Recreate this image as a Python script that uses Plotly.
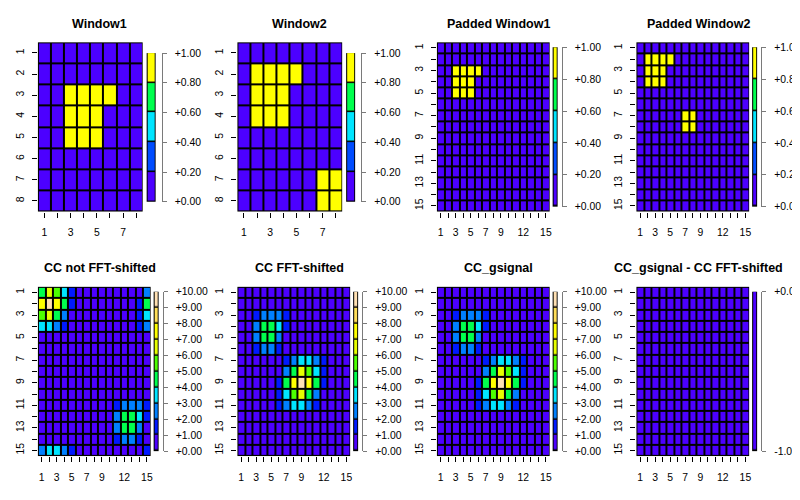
import plotly.graph_objects as go

# ---------------- data ----------------
window1 = [
    [0, 0, 0, 0, 0, 0, 0, 0],
    [0, 0, 0, 0, 0, 0, 0, 0],
    [0, 0, 1, 1, 1, 1, 0, 0],
    [0, 0, 1, 1, 1, 0, 0, 0],
    [0, 0, 1, 1, 1, 0, 0, 0],
    [0, 0, 0, 0, 0, 0, 0, 0],
    [0, 0, 0, 0, 0, 0, 0, 0],
    [0, 0, 0, 0, 0, 0, 0, 0],
]
window2 = [
    [0, 0, 0, 0, 0, 0, 0, 0],
    [0, 1, 1, 1, 1, 0, 0, 0],
    [0, 1, 1, 1, 0, 0, 0, 0],
    [0, 1, 1, 1, 0, 0, 0, 0],
    [0, 0, 0, 0, 0, 0, 0, 0],
    [0, 0, 0, 0, 0, 0, 0, 0],
    [0, 0, 0, 0, 0, 0, 1, 1],
    [0, 0, 0, 0, 0, 0, 1, 1],
]
padded1 = [
    [0, 0, 0, 0, 0, 0, 0, 0, 0, 0, 0, 0, 0, 0, 0],
    [0, 0, 0, 0, 0, 0, 0, 0, 0, 0, 0, 0, 0, 0, 0],
    [0, 0, 1, 1, 1, 1, 0, 0, 0, 0, 0, 0, 0, 0, 0],
    [0, 0, 1, 1, 1, 0, 0, 0, 0, 0, 0, 0, 0, 0, 0],
    [0, 0, 1, 1, 1, 0, 0, 0, 0, 0, 0, 0, 0, 0, 0],
    [0, 0, 0, 0, 0, 0, 0, 0, 0, 0, 0, 0, 0, 0, 0],
    [0, 0, 0, 0, 0, 0, 0, 0, 0, 0, 0, 0, 0, 0, 0],
    [0, 0, 0, 0, 0, 0, 0, 0, 0, 0, 0, 0, 0, 0, 0],
    [0, 0, 0, 0, 0, 0, 0, 0, 0, 0, 0, 0, 0, 0, 0],
    [0, 0, 0, 0, 0, 0, 0, 0, 0, 0, 0, 0, 0, 0, 0],
    [0, 0, 0, 0, 0, 0, 0, 0, 0, 0, 0, 0, 0, 0, 0],
    [0, 0, 0, 0, 0, 0, 0, 0, 0, 0, 0, 0, 0, 0, 0],
    [0, 0, 0, 0, 0, 0, 0, 0, 0, 0, 0, 0, 0, 0, 0],
    [0, 0, 0, 0, 0, 0, 0, 0, 0, 0, 0, 0, 0, 0, 0],
    [0, 0, 0, 0, 0, 0, 0, 0, 0, 0, 0, 0, 0, 0, 0],
]
padded2 = [
    [0, 0, 0, 0, 0, 0, 0, 0, 0, 0, 0, 0, 0, 0, 0],
    [0, 1, 1, 1, 1, 0, 0, 0, 0, 0, 0, 0, 0, 0, 0],
    [0, 1, 1, 1, 0, 0, 0, 0, 0, 0, 0, 0, 0, 0, 0],
    [0, 1, 1, 1, 0, 0, 0, 0, 0, 0, 0, 0, 0, 0, 0],
    [0, 0, 0, 0, 0, 0, 0, 0, 0, 0, 0, 0, 0, 0, 0],
    [0, 0, 0, 0, 0, 0, 0, 0, 0, 0, 0, 0, 0, 0, 0],
    [0, 0, 0, 0, 0, 0, 1, 1, 0, 0, 0, 0, 0, 0, 0],
    [0, 0, 0, 0, 0, 0, 1, 1, 0, 0, 0, 0, 0, 0, 0],
    [0, 0, 0, 0, 0, 0, 0, 0, 0, 0, 0, 0, 0, 0, 0],
    [0, 0, 0, 0, 0, 0, 0, 0, 0, 0, 0, 0, 0, 0, 0],
    [0, 0, 0, 0, 0, 0, 0, 0, 0, 0, 0, 0, 0, 0, 0],
    [0, 0, 0, 0, 0, 0, 0, 0, 0, 0, 0, 0, 0, 0, 0],
    [0, 0, 0, 0, 0, 0, 0, 0, 0, 0, 0, 0, 0, 0, 0],
    [0, 0, 0, 0, 0, 0, 0, 0, 0, 0, 0, 0, 0, 0, 0],
    [0, 0, 0, 0, 0, 0, 0, 0, 0, 0, 0, 0, 0, 0, 0],
]
cc_not_shifted = [
    [4, 6, 5, 3, 1, 0, 0, 0, 0, 0, 0, 0, 0, 0, 2],
    [7, 10, 7, 4, 1, 0, 0, 0, 0, 0, 0, 0, 0, 1, 4],
    [5, 6, 4, 2, 0, 0, 0, 0, 0, 0, 0, 0, 0, 1, 3],
    [3, 3, 2, 1, 0, 0, 0, 0, 0, 0, 0, 0, 0, 1, 2],
    [0, 0, 0, 0, 0, 0, 0, 0, 0, 0, 0, 0, 0, 0, 0],
    [0, 0, 0, 0, 0, 0, 0, 0, 0, 0, 0, 0, 0, 0, 0],
    [0, 0, 0, 0, 0, 0, 0, 0, 0, 0, 0, 0, 0, 0, 0],
    [0, 0, 0, 0, 0, 0, 0, 0, 0, 0, 0, 0, 0, 0, 0],
    [0, 0, 0, 0, 0, 0, 0, 0, 0, 0, 0, 0, 0, 0, 0],
    [0, 0, 0, 0, 0, 0, 0, 0, 0, 0, 0, 0, 0, 0, 0],
    [0, 0, 0, 0, 0, 0, 0, 0, 0, 0, 1, 2, 2, 2, 1],
    [0, 0, 0, 0, 0, 0, 0, 0, 0, 0, 2, 4, 4, 3, 1],
    [0, 0, 0, 0, 0, 0, 0, 0, 0, 0, 2, 4, 4, 2, 0],
    [0, 0, 0, 0, 0, 0, 0, 0, 0, 0, 1, 2, 2, 1, 0],
    [2, 3, 3, 2, 1, 0, 0, 0, 0, 0, 0, 0, 0, 0, 1],
]
cc_shifted = [
    [0, 0, 0, 0, 0, 0, 0, 0, 0, 0, 0, 0, 0, 0, 0],
    [0, 0, 0, 0, 0, 0, 0, 0, 0, 0, 0, 0, 0, 0, 0],
    [0, 0, 1, 2, 2, 2, 1, 0, 0, 0, 0, 0, 0, 0, 0],
    [0, 0, 2, 4, 4, 3, 1, 0, 0, 0, 0, 0, 0, 0, 0],
    [0, 0, 2, 4, 4, 2, 0, 0, 0, 0, 0, 0, 0, 0, 0],
    [0, 0, 1, 2, 2, 1, 0, 0, 0, 0, 0, 0, 0, 0, 0],
    [0, 0, 0, 0, 0, 0, 1, 2, 3, 3, 2, 1, 0, 0, 0],
    [0, 0, 0, 0, 0, 0, 2, 4, 6, 5, 3, 1, 0, 0, 0],
    [0, 0, 0, 0, 0, 1, 4, 7, 10, 7, 4, 1, 0, 0, 0],
    [0, 0, 0, 0, 0, 1, 3, 5, 6, 4, 2, 0, 0, 0, 0],
    [0, 0, 0, 0, 0, 1, 2, 3, 3, 2, 1, 0, 0, 0, 0],
    [0, 0, 0, 0, 0, 0, 0, 0, 0, 0, 0, 0, 0, 0, 0],
    [0, 0, 0, 0, 0, 0, 0, 0, 0, 0, 0, 0, 0, 0, 0],
    [0, 0, 0, 0, 0, 0, 0, 0, 0, 0, 0, 0, 0, 0, 0],
    [0, 0, 0, 0, 0, 0, 0, 0, 0, 0, 0, 0, 0, 0, 0],
]
cc_gsignal = [
    [0, 0, 0, 0, 0, 0, 0, 0, 0, 0, 0, 0, 0, 0, 0],
    [0, 0, 0, 0, 0, 0, 0, 0, 0, 0, 0, 0, 0, 0, 0],
    [0, 0, 1, 2, 2, 2, 1, 0, 0, 0, 0, 0, 0, 0, 0],
    [0, 0, 2, 4, 4, 3, 1, 0, 0, 0, 0, 0, 0, 0, 0],
    [0, 0, 2, 4, 4, 2, 0, 0, 0, 0, 0, 0, 0, 0, 0],
    [0, 0, 1, 2, 2, 1, 0, 0, 0, 0, 0, 0, 0, 0, 0],
    [0, 0, 0, 0, 0, 0, 1, 2, 3, 3, 2, 1, 0, 0, 0],
    [0, 0, 0, 0, 0, 0, 2, 4, 6, 5, 3, 1, 0, 0, 0],
    [0, 0, 0, 0, 0, 1, 4, 7, 10, 7, 4, 1, 0, 0, 0],
    [0, 0, 0, 0, 0, 1, 3, 5, 6, 4, 2, 0, 0, 0, 0],
    [0, 0, 0, 0, 0, 1, 2, 3, 3, 2, 1, 0, 0, 0, 0],
    [0, 0, 0, 0, 0, 0, 0, 0, 0, 0, 0, 0, 0, 0, 0],
    [0, 0, 0, 0, 0, 0, 0, 0, 0, 0, 0, 0, 0, 0, 0],
    [0, 0, 0, 0, 0, 0, 0, 0, 0, 0, 0, 0, 0, 0, 0],
    [0, 0, 0, 0, 0, 0, 0, 0, 0, 0, 0, 0, 0, 0, 0],
]
cc_diff = [[0] * 15 for _ in range(15)]

titles = ["Window1", "Window2", "Padded Window1", "Padded Window2",
          "CC not FFT-shifted", "CC FFT-shifted", "CC_gsignal",
          "CC_gsignal - CC FFT-shifted"]

# key colours (R topo.colors) and break points
topo5 = ["#4C00FF", "#004CFF", "#00E5FF", "#00FF4D", "#FFFF00"]
topo10 = ["#4C00FF", "#0019FF", "#0080FF", "#00E5FF", "#00FF4D",
          "#4DFF00", "#E6FF00", "#FFFF00", "#FFDE59", "#FFE0B3"]
topo1 = ["#4C00FF"]
breaks_win = [0.0, 0.2, 0.4, 0.6, 0.8, 1.0]
breaks_cc = [0, 1, 2, 3, 4, 5, 6, 7, 8, 9, 10]
breaks_diff = [-1, 0]
key_labels_win = ["+0.00", "+0.20", "+0.40", "+0.60", "+0.80", "+1.00"]
key_labels_cc = ["+0.00", "+1.00", "+2.00", "+3.00", "+4.00", "+5.00",
                 "+6.00", "+7.00", "+8.00", "+9.00", "+10.00"]
key_labels_diff = ["-1.00", "+0.00"]

# axis tick labels
ticks8 = [1, 2, 3, 4, 5, 6, 7, 8]
xlab8 = ["1", "", "3", "", "5", "", "7", ""]
ylab8 = ["1", "2", "3", "4", "5", "6", "7", "8"]
ticks15 = list(range(1, 16))
xlab15 = ["1", "", "3", "", "5", "", "7", "", "9", "", "", "12", "", "", "15"]
ylab15 = ["1", "", "3", "", "5", "", "7", "", "9", "", "11", "", "13", "", "15"]

# ---------------- layout helpers ----------------
W, H = 800, 500
OFF = 8  # the page body adds an 8px margin around the figure
FONT = "Liberation Sans, Arial, Helvetica, sans-serif"


def fx(px):
    return (px - OFF) / W


def fy(py):
    return 1 - (py - OFF) / H


GEOM = {
    "win": dict(plot_x=(38, 143), cb_x=(147, 156), cb_y=(49, 201), cb_axis=162),
    "big": dict(plot_x=(38, 151), cb_x=(154, 159), cb_y=(43, 206), cb_axis=163),
}
PLOT_Y = (38, 211)

panels = [
    (window1, topo5, breaks_win, key_labels_win, ticks8, xlab8, ylab8, "win"),
    (window2, topo5, breaks_win, key_labels_win, ticks8, xlab8, ylab8, "win"),
    (padded1, topo5, breaks_win, key_labels_win, ticks15, xlab15, ylab15, "big"),
    (padded2, topo5, breaks_win, key_labels_win, ticks15, xlab15, ylab15, "big"),
    (cc_not_shifted, topo10, breaks_cc, key_labels_cc, ticks15, xlab15, ylab15, "big"),
    (cc_shifted, topo10, breaks_cc, key_labels_cc, ticks15, xlab15, ylab15, "big"),
    (cc_gsignal, topo10, breaks_cc, key_labels_cc, ticks15, xlab15, ylab15, "big"),
    (cc_diff, topo1, breaks_diff, key_labels_diff, ticks15, xlab15, ylab15, "big"),
]


def discrete_scale(colors):
    k = len(colors)
    cs = []
    for i, c in enumerate(colors):
        cs.append([i / k, c])
        cs.append([(i + 1) / k, c])
    return cs


fig = go.Figure()
layout = {}
annotations = []
tickfont = dict(family=FONT, size=10.4, color="black")

for idx, (z, colors, breaks, klabels, tks, xl, yl, gkey) in enumerate(panels):
    g = GEOM[gkey]
    col, row = idx % 4, idx // 4
    ox, oy = 200 * col, 250 * row
    n = len(z)
    step = breaks[1] - breaks[0]
    zmin = breaks[0] - step / 2
    zmax = breaks[-1] - step / 2
    cs = discrete_scale(colors)

    a_main = 2 * idx + 1
    a_key = 2 * idx + 2

    fig.add_trace(go.Heatmap(
        z=z, x=tks, y=tks, colorscale=cs, zmin=zmin, zmax=zmax,
        showscale=False, xgap=2, ygap=2, hoverinfo="skip",
        xaxis=f"x{a_main}", yaxis=f"y{a_main}"))

    layout[f"xaxis{a_main}"] = dict(
        domain=[fx(ox + g["plot_x"][0]), fx(ox + g["plot_x"][1])],
        range=[0.5, n + 0.5], anchor=f"y{a_main}",
        tickmode="array", tickvals=tks, ticktext=xl,
        ticks="outside", ticklen=5, tickwidth=1, tickcolor="black",
        showgrid=False, zeroline=False, showline=False,
        tickfont=tickfont, tickangle=0, ticklabelstandoff=6, fixedrange=True)
    layout[f"yaxis{a_main}"] = dict(
        domain=[fy(oy + PLOT_Y[1]), fy(oy + PLOT_Y[0])],
        range=[n + 0.5, 0.5], anchor=f"x{a_main}",
        tickmode="array", tickvals=tks, ticktext=yl,
        ticks="outside", ticklen=5, tickwidth=1, tickcolor="black",
        showgrid=False, zeroline=False, showline=False,
        tickfont=tickfont, tickangle=-90, ticklabelstandoff=4, fixedrange=True)

    # key (colour legend) drawn as a one-column heatmap
    lows = breaks[:-1]
    mids = [(breaks[i] + breaks[i + 1]) / 2 for i in range(len(lows))]
    fig.add_trace(go.Heatmap(
        z=[[v] for v in lows], x=[0], y=mids, colorscale=cs,
        zmin=zmin, zmax=zmax, showscale=False, xgap=2, ygap=1.5,
        hoverinfo="skip", xaxis=f"x{a_key}", yaxis=f"y{a_key}"))
    layout[f"xaxis{a_key}"] = dict(
        domain=[fx(ox + g["cb_x"][0]), fx(ox + g["cb_x"][1])],
        range=[-0.5, 0.5], anchor=f"y{a_key}", visible=False, fixedrange=True)
    layout[f"yaxis{a_key}"] = dict(
        domain=[fy(oy + g["cb_y"][1]), fy(oy + g["cb_y"][0])],
        range=[breaks[0], breaks[-1]], anchor="free",
        position=fx(ox + g["cb_axis"]), side="right",
        tickmode="array", tickvals=breaks, ticktext=klabels,
        ticks="outside", ticklen=4, tickwidth=1, tickcolor="#7a7a7a",
        showline=True, linecolor="#7a7a7a", linewidth=1,
        showgrid=False, zeroline=False, tickfont=tickfont,
        ticklabelstandoff=6, fixedrange=True)

    annotations.append(dict(
        text=f"<b>{titles[idx]}</b>", x=fx(ox + 100), y=fy(oy + 19),
        xref="paper", yref="paper", showarrow=False,
        xanchor="center", yanchor="middle",
        font=dict(family=FONT, size=12.5, color="black")))

fig.update_layout(
    width=W, height=H, margin=dict(l=0, r=0, t=0, b=0),
    paper_bgcolor="white", plot_bgcolor="black",
    showlegend=False, annotations=annotations,
    font=dict(family=FONT, color="black"),
    **layout)

fig.write_html("out.html")
